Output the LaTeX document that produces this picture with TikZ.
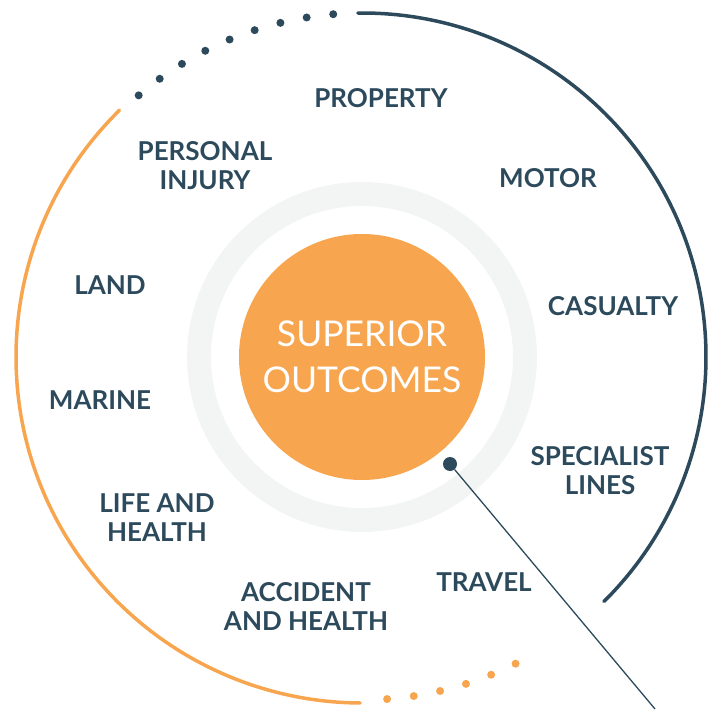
\documentclass[tikz,border=0pt]{standalone}
\usepackage{fontspec}
\setmainfont{Lato}
\usetikzlibrary{positioning}
\definecolor{navy}{HTML}{2C4A5C}
\definecolor{peach}{HTML}{F7A54E}
\definecolor{mist}{HTML}{F3F4F4}

\begin{document}
\begin{tikzpicture}[x=1pt,y=1pt,
	area/.style={text=navy, align=center, inner sep=0pt,
		font=\bfseries\fontsize{26}{29}\selectfont},
	hub/.style={circle, fill=peach, minimum size=246pt, text=white, align=center,
		font=\fontsize{35.5}{46}\selectfont},
	bead/.style={circle, fill=#1, inner sep=0pt, minimum size=8pt}]
	\useasboundingbox (-362,-352) rectangle (352,357);
	% rings
		\draw[mist, line width=24pt] (0,0) circle (163);
		\draw[navy, line width=3.5pt, line cap=round] (90.7:344) arc (90.7:-45.3:344);
		\draw[peach, line width=3.5pt, line cap=round] (134.5:346) arc (134.5:269.7:346);
		\foreach \a in {0,...,8}
			\node[bead=navy] at ({94.8+4.46*\a}:344) {};
		\foreach \a in {0,...,5}
			\node[bead=peach] at ({-85.8+4.48*\a}:343) {};
	% centre
		\node[hub] (hub) at (0,0) {SUPERIOR\\OUTCOMES};
	% lines of business
		\node[area] (property) at (19,259) {PROPERTY};
		\node[area] (injury) at (-157,191.5) {PERSONAL\\INJURY};
		\node[area] (motor) at (186,179) {MOTOR};
		\node[area] (land) at (-252,72) {LAND};
		\node[area] (casualty) at (251,51) {CASUALTY};
		\node[area] (marine) at (-262,-43) {MARINE};
		\node[area] (specialist) at (238,-113.5) {SPECIALIST\\LINES};
		\node[area] (life) at (-205,-160.5) {LIFE AND\\HEALTH};
		\node[area] (travel) at (122,-225) {TRAVEL};
		\node[area] (accident) at (-56,-249.5) {ACCIDENT\\AND HEALTH};
	% pointer
		\node[bead=navy, minimum size=14pt] (pin) at (88,-107) {};
		\coordinate (tail) at (293,-352);
			\draw[navy, line width=1.3pt] (pin) -- (tail);
\end{tikzpicture}
\end{document}
